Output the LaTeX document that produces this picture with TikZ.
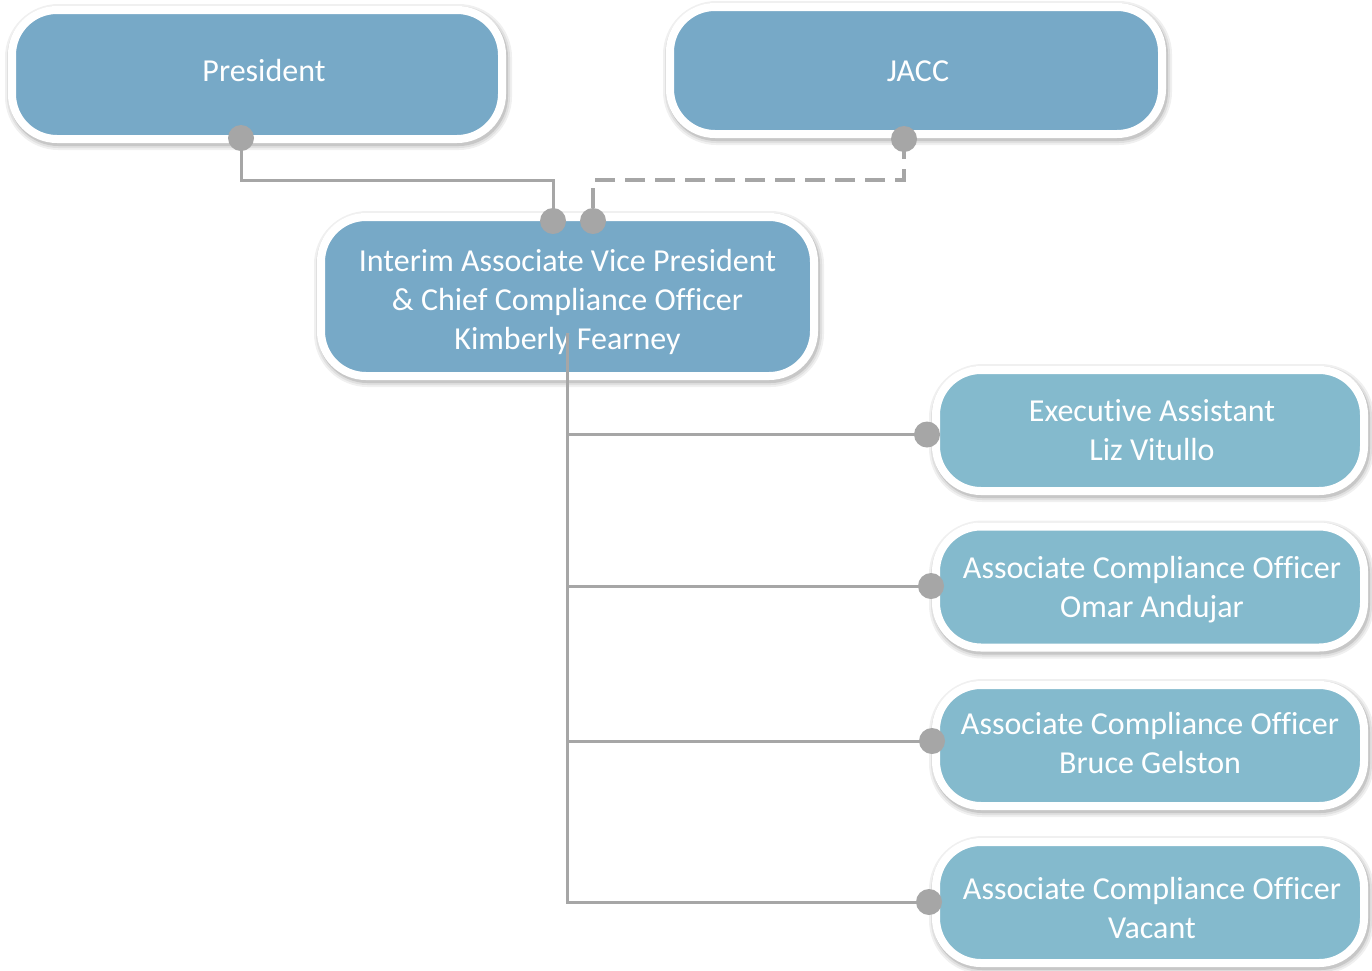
\documentclass[tikz,border=0pt]{standalone}
\usepackage{fontspec}
\setmainfont{Carlito}[Ligatures=NoCommon]
\usetikzlibrary{shadows,calc}
\definecolor{topfill}{HTML}{77A9C7}
\definecolor{subfill}{HTML}{84BACD}
\definecolor{linec}{HTML}{A6A6A6}
\newcommand{\mvtext}[3]{\hspace*{#1}\raisebox{#2}[\height][\depth]{\begin{tabular}{@{}c@{}}#3\end{tabular}}}
\begin{document}
\begin{tikzpicture}[x=1pt,y=-1pt,
  shA/.style={general shadow={shadow xshift=1.5pt, shadow yshift=-2.5pt, opacity=1, fill=black!6, draw=black!6, line width=17pt}},
  shB/.style={general shadow={shadow xshift=1.5pt, shadow yshift=-2.5pt, opacity=1, fill=black!12, draw=black!12, line width=13pt}},
  shC/.style={general shadow={shadow xshift=1.5pt, shadow yshift=-2.5pt, opacity=1, fill=black!22, draw=black!22, line width=9pt}},
  box/.style={shA, shB, shC, draw=white, line width=8pt, rounded corners=45pt, text=white, align=center,
    font=\fontsize{32}{39}\selectfont, inner sep=0pt},
  topbox/.style={box, fill=topfill},
  subbox/.style={box, fill=subfill, minimum width=428pt, minimum height=121pt},
  conn/.style={draw=linec, line width=3pt},
  dconn/.style={draw=linec, line width=3.5pt, dash pattern=on 20pt off 10pt},
  dotc/.style={fill=linec}]
\useasboundingbox (0,0) rectangle (1372,970);

\node[topbox, minimum width=490pt, minimum height=129pt] (pres) at (257,74.5) {\mvtext{14pt}{1pt}{President}};
\node[topbox, minimum width=492pt, minimum height=127pt] (jacc) at (916,70.5) {\mvtext{4pt}{-3pt}{JACC}};
\node[topbox, minimum width=493pt, minimum height=159pt] (avp) at (567.5,296.5)
  {\mvtext{0pt}{-6.5pt}{Interim Associate Vice President\\\& Chief Compliance Officer\\Kimberly Fearney}};
\node[subbox] (exec) at (1150,430.5) {\mvtext{4pt}{-3pt}{Executive Assistant\\Liz Vitullo}};
\node[subbox] (omar) at (1150,587) {\mvtext{4pt}{-3.5pt}{Associate Compliance Officer\\Omar Andujar}};
\node[subbox] (bruce) at (1150,745.5) {\mvtext{0pt}{-1pt}{Associate Compliance Officer\\Bruce Gelston}};
\node[subbox] (vac) at (1150,902.5) {\mvtext{4pt}{-9pt}{Associate Compliance Officer\\Vacant}};

\coordinate (pd) at (241,138);
\coordinate (jd) at (904,139);
\coordinate (ad1) at (553,221);
\coordinate (ad2) at (593,221);
\coordinate (trunk) at (567,333);
\coordinate (ed) at ($(exec.west)+(-5,4)$);
\coordinate (od) at ($(omar.west)+(-1,-1)$);
\coordinate (bd) at ($(bruce.west)+(0,-4.5)$);
\coordinate (vd) at ($(vac.west)+(-3,-0.5)$);

\draw[conn] (pd) -- ++(0,42) -| (ad1);
\draw[dconn] (jd) -- ++(0,41) -| (ad2);
\draw[conn] (trunk) |- (ed);
\draw[conn] (trunk) |- (od);
\draw[conn] (trunk) |- (bd);
\draw[conn] (trunk) |- (vd);

\foreach \d in {pd,jd,ad1,ad2,ed,od,bd,vd}
  \fill[dotc] (\d) circle (13pt);
\end{tikzpicture}
\end{document}
